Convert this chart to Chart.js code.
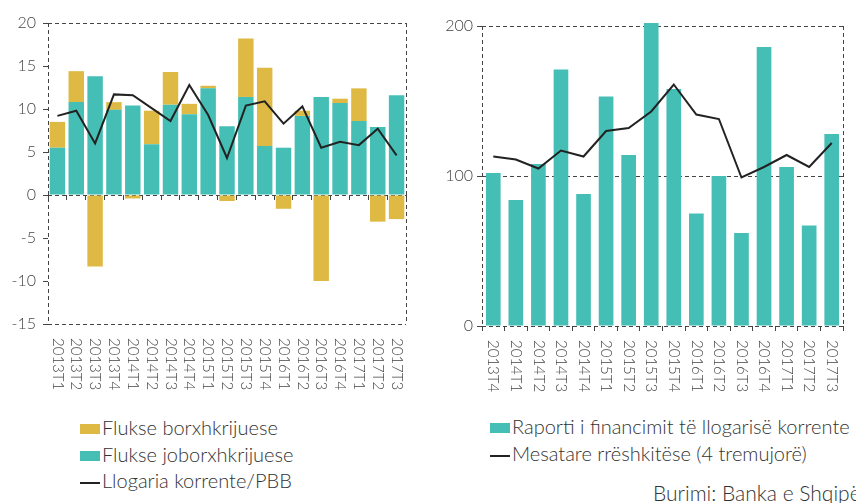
<!DOCTYPE html>
<html>
<head>
<meta charset="utf-8">
<script src="https://cdn.jsdelivr.net/npm/chart.js@4.4.0/dist/chart.umd.min.js"></script>
<style>
body { margin:0; width:856px; height:503px; background:#fff; position:relative; overflow:hidden; font-family: Lato, sans-serif; font-weight:300; color:#333; }
#c1 { position:absolute; left:0; top:0; }
#c2 { position:absolute; left:430px; top:0; }
.lg { position:absolute; font-size:20px; white-space:nowrap; line-height:26.5px; }
.sw { display:inline-block; width:20px; height:10px; vertical-align:middle; margin-right:2px; position:relative; top:-1px; }
.ln { display:inline-block; width:20px; height:2px; background:#222; vertical-align:middle; margin-right:2px; }
.src { position:absolute; left:653px; top:480px; font-size:21px; white-space:nowrap; line-height:26px; }
</style>
</head>
<body>
<canvas id="c1" width="430" height="400"></canvas>
<canvas id="c2" width="426" height="400"></canvas>

<div class="lg" style="left:80px; top:414px;">
  <div><span class="sw" style="background:#DEBA45"></span>Flukse borxhkrijuese</div>
  <div><span class="sw" style="background:#45BFB5"></span>Flukse joborxhkrijuese</div>
  <div><span class="ln"></span>Llogaria korrente/PBB</div>
</div>
<div class="lg" style="left:490px; top:413px;">
  <div><span class="sw" style="background:#45BFB5"></span>Raporti i financimit të llogarisë korrente</div>
  <div><span class="ln"></span>Mesatare rrëshkitëse (4 tremujorë)</div>
</div>
<div class="src">Burimi: Banka e Shqipërisë</div>

<script>
// left chart
const qLeft = ['2013T1', '2013T2', '2013T3', '2013T4', '2014T1', '2014T2', '2014T3', '2014T4', '2015T1', '2015T2',
    '2015T3', '2015T4', '2016T1', '2016T2', '2016T3', '2016T4', '2017T1', '2017T2', '2017T3'];
const joborxh = [5.5, 10.8, 13.8, 9.9, 10.4, 5.9, 10.5, 9.4, 12.4, 8.0, 11.4, 5.7, 5.5, 9.2, 11.4, 10.7, 8.6, 7.9, 11.6];
const borxh = [3.0, 3.6, -8.3, 0.9, -0.4, 3.9, 3.8, 1.2, 0.3, -0.7, 6.8, 9.1, -1.6, 0.6, -10.0, 0.5, 3.8, -3.1, -2.8];
const llogaria = [9.2, 9.8, 6.0, 11.7, 11.6, 10.1, 8.6, 12.8, 9.3, 4.3, 10.4, 10.9, 8.3, 10.3, 5.5, 6.2, 5.8, 7.7, 4.6];

// right chart
const qRight = ['2013T4', '2014T1', '2014T2', '2014T3', '2014T4', '2015T1', '2015T2', '2015T3', '2015T4',
    '2016T1', '2016T2', '2016T3', '2016T4', '2017T1', '2017T2', '2017T3'];
const raporti = [102, 84, 108, 171, 88, 153, 114, 202, 158, 75, 100, 62, 186, 106, 67, 128];
const mesatare = [113, 111, 105, 117, 113, 130, 132, 143, 161, 141, 138, 99, 106, 114, 106, 122];

const teal = '#45BFB5';
const gold = '#DEBA45';
const axisCol = '#444';

// labels read top to bottom, so draw them ourselves
const vertLabels = {
    id: 'vertLabels',
    afterDraw(chart) {
        const ctx = chart.ctx;
        const xs = chart.scales.x;
        ctx.save();
        ctx.fillStyle = axisCol;
        ctx.font = '300 15px Lato';
        ctx.textAlign = 'left';
        ctx.textBaseline = 'middle';
        chart.data.labels.forEach((lb, i) => {
            ctx.save();
            ctx.translate(xs.getPixelForTick(i), chart.chartArea.bottom + 14);
            ctx.rotate(Math.PI / 2);
            ctx.fillText(lb, 0, 0);
            ctx.restore();
        });
        ctx.restore();
    }
};

function xAxis() {
    return {
        position: { y: 0 },
        ticks: { display: false },
        grid: {
            color: c => (c.index === 0 || c.index === undefined) ? axisCol : 'transparent',
            tickColor: axisCol,
            tickLength: 5,
            lineWidth: 1
        },
        border: { display: false, dash: [4, 3] }
    };
}

function yAxis(min, max, step, lines, w, pad) {
    return {
        min: min,
        max: max,
        stacked: true,
        ticks: { stepSize: step, color: axisCol, padding: pad, font: { family: 'Lato', size: 16, weight: 300 } },
        grid: {
            color: c => (c.tick && lines.includes(c.tick.value)) ? axisCol : 'transparent',
            tickColor: axisCol,
            tickLength: 5
        },
        border: { display: false, dash: [4, 3] },
        afterFit: s => { s.width = w; }
    };
}

new Chart(document.getElementById('c1'), {
    type: 'bar',
    data: {
        labels: qLeft,
        datasets: [{
            type: 'line',
            label: 'Llogaria korrente/PBB',
            data: llogaria,
            stack: 'line',
            borderColor: '#222',
            borderWidth: 2,
            pointRadius: 0,
            tension: 0
        }, {
            label: 'Flukse joborxhkrijuese',
            data: joborxh,
            stack: 'bars',
            backgroundColor: teal,
            barPercentage: 0.82,
            categoryPercentage: 1
        }, {
            label: 'Flukse borxhkrijuese',
            data: borxh,
            stack: 'bars',
            backgroundColor: gold,
            barPercentage: 0.82,
            categoryPercentage: 1
        }]
    },
    options: {
        responsive: false,
        animation: false,
        layout: { padding: { left: 0, top: 23, right: 24, bottom: 76 } },
        scales: {
            x: Object.assign(xAxis(), { stacked: true }),
            y: yAxis(-15, 20, 5, [20, 0, -15], 48, 7)
        },
        plugins: {
            legend: { display: false },
            tooltip: { enabled: false }
        }
    },
    plugins: [vertLabels]
});

new Chart(document.getElementById('c2'), {
    type: 'bar',
    data: {
        labels: qRight,
        datasets: [{
            type: 'line',
            label: 'Mesatare rrëshkitëse (4 tremujorë)',
            data: mesatare,
            borderColor: '#222',
            borderWidth: 2,
            pointRadius: 0,
            tension: 0
        }, {
            label: 'Raporti i financimit të llogarisë korrente',
            data: raporti,
            backgroundColor: teal,
            barPercentage: 0.65,
            categoryPercentage: 1,
            clip: false
        }]
    },
    options: {
        responsive: false,
        animation: false,
        layout: { padding: { left: 0, top: 26, right: 13, bottom: 74 } },
        scales: {
            x: xAxis(),
            y: Object.assign(yAxis(0, 200, 100, [0, 100, 200], 52, 4), { stacked: false })
        },
        plugins: {
            legend: { display: false },
            tooltip: { enabled: false }
        }
    },
    plugins: [vertLabels]
});
</script>
</body>
</html>
